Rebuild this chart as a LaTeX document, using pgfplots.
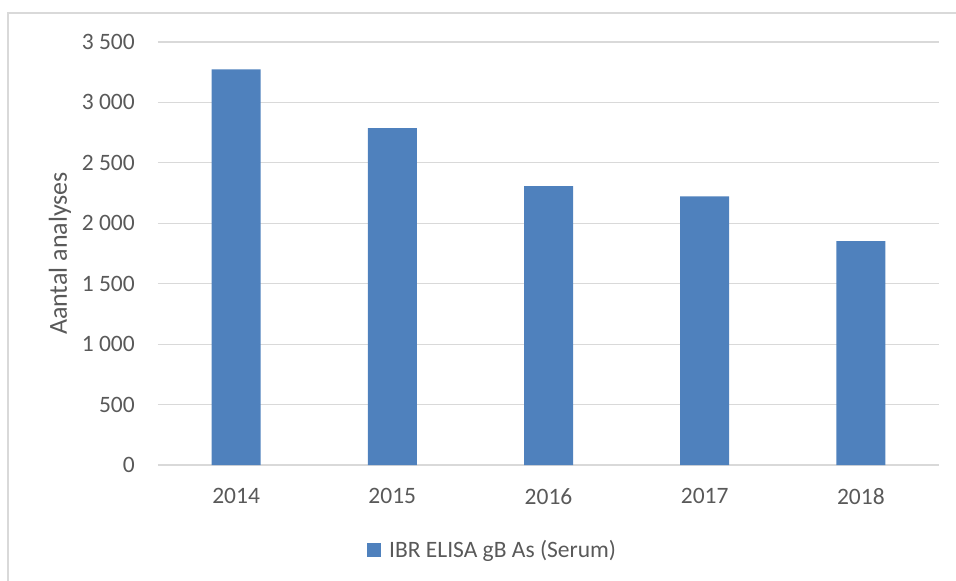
\documentclass[border=0pt]{standalone}
\usepackage{pgfplots}
\pgfplotsset{compat=1.18}
\usepackage{fontspec}
\setmainfont{Carlito}
\definecolor{barblue}{HTML}{4F81BD}
\definecolor{txtgray}{HTML}{595959}
\definecolor{gridgray}{HTML}{D9D9D9}
\begin{document}
\begin{tikzpicture}
\path[use as bounding box] (-158pt,-116pt) rectangle (798pt,465pt);
\draw[gridgray, line width=1.5pt] (-150pt,-116pt) -- (-150pt,452pt) -- (798pt,452pt);
\begin{axis}[
  scale only axis,
  width=781pt, height=423pt,
  at={(0pt,0pt)}, anchor=south west,
  xmin=-0.5, xmax=4.5,
  ymin=0, ymax=3500,
  axis line style={draw=none},
  major tick length=0pt,
  xtick={0,1,2,3,4},
  xticklabels={2014,2015,2016,2017,2018},
  ytick={0,500,1000,1500,2000,2500,3000,3500},
  yticklabels={0,500,1 000,1 500,2 000,2 500,3 000,3 500},
  ymajorgrids,
  grid style={gridgray, line width=1.2pt},
  tick label style={font=\fontsize{23.5}{28}\selectfont, text=txtgray, inner sep=0pt},
  x tick label style={yshift=-23pt},
  y tick label style={xshift=-23pt},
  ylabel={Aantal analyses},
  ylabel style={at={(axis description cs:-0.1255,0.5)}, anchor=center, font=\fontsize{26}{31}\selectfont, text=txtgray, inner sep=0pt},
  legend style={at={(axis description cs:0.2676,-0.201)}, anchor=west, draw=none, fill=none, inner sep=0pt, font=\fontsize{23.5}{28}\selectfont, text=txtgray, legend cell align=left,
    /tikz/every even column/.append style={column sep=0pt}},
  legend image code/.code={\fill[barblue] (0pt,-7pt) rectangle (14pt,7pt);},
]
\addplot[ybar, bar width=49pt, fill=barblue, draw=none] coordinates {(0,3274) (1,2788) (2,2308) (3,2223) (4,1853)};
\addlegendentry{\hspace{6pt}IBR ELISA gB As (Serum)}
\end{axis}
\end{tikzpicture}
\end{document}
